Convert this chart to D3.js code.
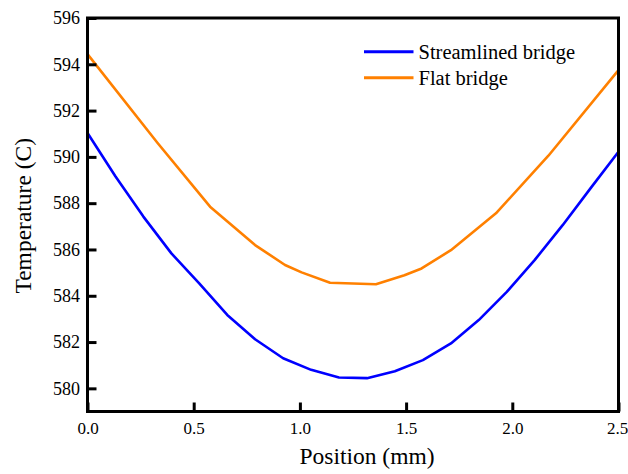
<!DOCTYPE html>
<html>
<head>
<meta charset="utf-8">
<script src="https://cdn.jsdelivr.net/npm/d3@7"></script>
<style>
  body { margin: 0; background: #fff; }
  text { font-family: "Liberation Serif", "Times New Roman", serif; fill: #000; }
</style>
</head>
<body>
<svg id="chart" width="628" height="474"></svg>
<script>
// streamlined bridge: evenly spaced nodes
const streamX = [0, 0.132, 0.263, 0.395, 0.526, 0.658, 0.789, 0.921, 1.053, 1.184,
	1.316, 1.447, 1.579, 1.711, 1.842, 1.974, 2.105, 2.237, 2.368, 2.5]
const streamT = [591.03, 589.15, 587.42, 585.83, 584.54, 583.17, 582.12, 581.30, 580.80, 580.47,
	580.44, 580.74, 581.22, 581.94, 582.95, 584.17, 585.54, 587.05, 588.64, 590.22]

// flat bridge: its own mesh
const flatX = [0, 0.33, 0.577, 0.789, 0.93, 1.008, 1.142, 1.358, 1.492, 1.573, 1.711, 1.923, 2.17, 2.5]
const flatT = [594.44, 590.6, 587.85, 586.19, 585.33, 585.01, 584.56, 584.50, 584.89, 585.18,
	585.97, 587.56, 590.05, 593.75]

const xTicks = [0, 0.5, 1.0, 1.5, 2.0, 2.5]
const yTicks = [580, 582, 584, 586, 588, 590, 592, 594, 596]

const seriesNames = ['Streamlined bridge', 'Flat bridge']
const seriesColors = ['#0000ff', '#ff8000']

const margin = { top: 18, right: 9.5, bottom: 62.5, left: 87.5 }
const width = 628 - margin.left - margin.right
const height = 474 - margin.top - margin.bottom

const svg = d3.select('#chart')
const g = svg.append('g')
	.attr('transform', `translate(${margin.left},${margin.top})`)

const x = d3.scaleLinear().domain([0, 2.5]).range([0, width])
const y = d3.scaleLinear().domain([579, 596]).range([height, 0])

const series = [
	{ name: seriesNames[0], color: seriesColors[0], pts: streamX.map((v, i) => [v, streamT[i]]) },
	{ name: seriesNames[1], color: seriesColors[1], pts: flatX.map((v, i) => [v, flatT[i]]) }
]

const line = d3.line()
	.x((d) => x(d[0]))
	.y((d) => y(d[1]))

g.selectAll('path.series')
	.data(series)
	.enter().append('path')
		.attr('class', 'series')
		.attr('d', (s) => line(s.pts))
		.attr('fill', 'none')
		.attr('stroke', (s) => s.color)
		.attr('stroke-width', 2.6)
		.attr('stroke-linejoin', 'round')

// axes, ticks pointing inward
const xAxis = g.append('g')
	.attr('transform', `translate(0,${height})`)
	.call(d3.axisBottom(x).tickValues(xTicks).tickFormat(d3.format('.1f'))
		.tickSize(-9).tickPadding(10))
const yAxis = g.append('g')
	.call(d3.axisLeft(y).tickValues(yTicks).tickFormat(d3.format('d'))
		.tickSize(-9).tickPadding(7.5))

;[xAxis, yAxis].forEach((a) => {
	a.select('.domain').remove()
	a.selectAll('.tick line').attr('stroke', '#000').attr('stroke-width', 3)
	a.selectAll('.tick text')
		.attr('font-family', '"Liberation Serif", serif')
		.attr('fill', '#000')
})
xAxis.selectAll('.tick text').attr('font-size', '17px')
yAxis.selectAll('.tick text').attr('font-size', '18px')
// last x label sits against the page edge
xAxis.selectAll('.tick text').filter((d) => d === 2.5).attr('dx', '-1.5')

// frame
g.append('rect')
	.attr('width', width)
	.attr('height', height)
	.attr('fill', 'none')
	.attr('stroke', '#000')
	.attr('stroke-width', 3)

// axis titles
svg.append('text')
	.attr('x', margin.left + width / 2 + 14)
	.attr('y', 463.5)
	.attr('text-anchor', 'middle')
	.attr('font-size', '23.5px')
	.text('Position (mm)')

svg.append('text')
	.attr('transform', `translate(31,${margin.top + height / 2 + 1}) rotate(-90)`)
	.attr('text-anchor', 'middle')
	.attr('font-size', '23.5px')
	.text('Temperature (C)')

// legend
const legend = svg.append('g')
	.attr('transform', 'translate(364,51.7)')
const item = legend.selectAll('g')
	.data(series)
	.enter().append('g')
		.attr('transform', (d, i) => `translate(0,${i * 26})`)
item.append('line')
	.attr('x1', 0).attr('x2', 49.5)
	.attr('stroke', (d) => d.color)
	.attr('stroke-width', 3)
item.append('text')
	.attr('x', 54.5)
	.attr('y', 7.2)
	.attr('font-size', '20.5px')
	.text((d) => d.name)
</script>
</body>
</html>
